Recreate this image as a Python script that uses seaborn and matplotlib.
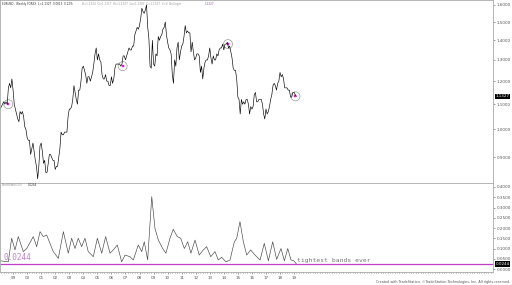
import matplotlib
matplotlib.use("Agg")
import matplotlib.pyplot as plt
import matplotlib.ticker as mticker
import seaborn as sns
import numpy as np
import pandas as pd

# ---------------- data ----------------
start_year = 1998.0
price_monthly = [
    1.09, 1.08, 1.09, 1.10, 1.11, 1.10, 1.11, 1.10, 1.17, 1.19, 1.17, 1.21,  # 1998
    1.16, 1.10, 1.08, 1.06, 1.04, 1.03, 1.07, 1.06, 1.07, 1.05, 1.01, 1.00,  # 1999
    0.97, 0.96, 0.96, 0.91, 0.93, 0.95, 0.92, 0.89, 0.87, 0.83, 0.87, 0.94,  # 2000
    0.95, 0.92, 0.88, 0.89, 0.85, 0.85, 0.88, 0.91, 0.91, 0.90, 0.89, 0.89,  # 2001
    0.86, 0.87, 0.87, 0.90, 0.93, 0.99, 0.98, 0.98, 0.99, 0.99, 0.99, 1.05,  # 2002
    1.08, 1.08, 1.09, 1.12, 1.18, 1.15, 1.12, 1.10, 1.16, 1.16, 1.20, 1.26,  # 2003
    1.27, 1.25, 1.23, 1.19, 1.22, 1.22, 1.20, 1.22, 1.24, 1.28, 1.33, 1.36,  # 2004
    1.30, 1.33, 1.30, 1.29, 1.23, 1.21, 1.21, 1.23, 1.20, 1.20, 1.18, 1.18,  # 2005
    1.22, 1.19, 1.21, 1.26, 1.28, 1.28, 1.28, 1.28, 1.27, 1.28, 1.32, 1.32,  # 2006
    1.30, 1.32, 1.34, 1.36, 1.35, 1.35, 1.37, 1.37, 1.43, 1.45, 1.47, 1.46,  # 2007
    1.48, 1.52, 1.58, 1.56, 1.55, 1.57, 1.60, 1.47, 1.41, 1.27, 1.26, 1.40,  # 2008
    1.28, 1.27, 1.33, 1.32, 1.42, 1.40, 1.42, 1.43, 1.46, 1.47, 1.50, 1.43,  # 2009
    1.39, 1.36, 1.35, 1.33, 1.23, 1.19, 1.30, 1.27, 1.36, 1.39, 1.30, 1.34,  # 2010
    1.37, 1.38, 1.42, 1.48, 1.44, 1.45, 1.44, 1.44, 1.34, 1.39, 1.34, 1.30,  # 2011
    1.31, 1.33, 1.33, 1.32, 1.24, 1.27, 1.21, 1.26, 1.29, 1.30, 1.30, 1.32,  # 2012
    1.36, 1.31, 1.28, 1.32, 1.30, 1.30, 1.33, 1.32, 1.35, 1.36, 1.36, 1.38,  # 2013
    1.35, 1.38, 1.38, 1.39, 1.36, 1.37, 1.34, 1.31, 1.26, 1.25, 1.25, 1.21,  # 2014
    1.13, 1.12, 1.06, 1.12, 1.10, 1.11, 1.10, 1.12, 1.12, 1.10, 1.06, 1.09,  # 2015
    1.08, 1.09, 1.14, 1.15, 1.11, 1.11, 1.12, 1.12, 1.12, 1.10, 1.06, 1.04,  # 2016
    1.08, 1.06, 1.07, 1.09, 1.12, 1.14, 1.18, 1.19, 1.18, 1.16, 1.19, 1.20,  # 2017
    1.24, 1.22, 1.23, 1.21, 1.17, 1.17, 1.17, 1.16, 1.16, 1.13, 1.13, 1.15,  # 2018
    1.15, 1.14, 1.1327,                                                      # 2019
]

bw_years = [
    1998.07, 1998.66, 1998.90, 1999.14, 1999.37, 1999.73, 1999.97, 2000.44,
    2000.68, 2000.92, 2001.15, 2001.39, 2001.86, 2002.22, 2002.58, 2002.93,
    2003.17, 2003.41, 2003.64, 2003.88, 2004.12, 2004.35, 2004.71, 2005.00,
    2005.31, 2005.59, 2005.90, 2006.13, 2006.42, 2006.73, 2006.97, 2007.32,
    2007.56, 2007.91, 2008.16, 2008.34, 2008.58, 2008.87, 2009.10, 2009.34,
    2009.65, 2009.88, 2010.17, 2010.40, 2010.69, 2010.93, 2011.19, 2011.43,
    2011.66, 2011.95, 2012.25, 2012.54, 2012.78, 2013.07, 2013.37, 2013.61,
    2013.85, 2014.15, 2014.44, 2014.75, 2014.92, 2015.15, 2015.39, 2015.63,
    2015.91, 2016.22, 2016.58, 2016.88, 2017.17, 2017.48, 2017.76, 2018.07,
    2018.31, 2018.55, 2018.78, 2018.98, 2019.17,
]
bw_values = [
    0.040, 0.035, 0.150, 0.093, 0.158, 0.085, 0.100, 0.158,
    0.109, 0.182, 0.158, 0.166, 0.085, 0.052, 0.182, 0.077,
    0.150, 0.100, 0.150, 0.109, 0.150, 0.085, 0.060, 0.150,
    0.077, 0.158, 0.077, 0.093, 0.117, 0.035, 0.068, 0.060,
    0.044, 0.117, 0.085, 0.133, 0.044, 0.353, 0.198, 0.141,
    0.100, 0.077, 0.150, 0.194, 0.158, 0.150, 0.100, 0.133,
    0.077, 0.141, 0.068, 0.093, 0.109, 0.060, 0.085, 0.044,
    0.057, 0.035, 0.044, 0.133, 0.150, 0.231, 0.133, 0.068,
    0.093, 0.068, 0.044, 0.125, 0.040, 0.133, 0.047, 0.100,
    0.040, 0.100, 0.044, 0.040, 0.0244,
]

circle_years = [1998.66, 2006.80, 2014.30, 2019.10]
circle_prices = [1.10, 1.27, 1.38, 1.133]

price_ticks = [0.9, 1.0, 1.1, 1.2, 1.3, 1.4, 1.5, 1.6]
bw_ticks = [0.0, 0.05, 0.10, 0.15, 0.20, 0.25, 0.30, 0.35, 0.40]
year_ticks = list(range(1999, 2020))
year_labels = [f"{y % 100:02d}" for y in year_ticks]

last_price = 1.1327
min_bw = 0.0244

# ---------------- figure ----------------
sns.set_theme(style="white")
plt.rcParams['font.family'] = ['DejaVu Sans']

W, H = 512, 285
fig = plt.figure(figsize=(W / 100, H / 100), dpi=100)
ax1 = fig.add_axes([0, 1 - 183 / H, 493 / W, 183 / H])
ax2 = fig.add_axes([0, 13 / H, 493 / W, 89 / H])

xmin = 1998.07
xmax = 1998.07 + 493 / 14.05

df_price = pd.DataFrame({
    "year": [start_year + i / 12 for i in range(len(price_monthly))],
    "price": price_monthly,
})
df_bw = pd.DataFrame({"year": bw_years, "bw": bw_values})

tick_col = "#555555"
purple = "#c03cc8"

# price panel
sns.lineplot(data=df_price, x="year", y="price", ax=ax1, color="black", lw=0.45)
ax1.set_yscale("log")
ax1.set_ylim(0.817, 1.63)
ax1.set_xlim(xmin, xmax)
ax1.yaxis.set_major_locator(mticker.FixedLocator(price_ticks))
ax1.yaxis.set_minor_locator(mticker.NullLocator())
ax1.yaxis.set_major_formatter(mticker.FuncFormatter(lambda v, p: f"{v:.4f}"))
ax1.yaxis.tick_right()
ax1.set_xticks([])
ax1.set_xlabel("")
ax1.set_ylabel("")
ax1.tick_params(axis="y", labelsize=3, colors=tick_col, length=1.5, width=0.4, pad=1)

sns.scatterplot(x=circle_years, y=circle_prices, ax=ax1, s=42, facecolor="none",
                edgecolor="#999999", linewidth=0.5, marker="o")
sns.scatterplot(x=circle_years, y=circle_prices, ax=ax1, s=4, color="#e020e0",
                edgecolor="#e020e0", linewidth=0.3, marker="s")

# bandwidth panel
sns.lineplot(data=df_bw, x="year", y="bw", ax=ax2, color="#444444", lw=0.45)
ax2.axhline(min_bw, color=purple, lw=0.9)
ax2.set_ylim(-0.0146, 0.4195)
ax2.set_xlim(xmin, xmax)
ax2.yaxis.set_major_locator(mticker.FixedLocator(bw_ticks))
ax2.yaxis.set_major_formatter(mticker.FuncFormatter(lambda v, p: f"{v:.4f}"))
ax2.yaxis.tick_right()
ax2.set_xticks(year_ticks)
ax2.set_xticklabels(year_labels)
ax2.xaxis.set_minor_locator(mticker.MultipleLocator(1 / 6))
ax2.set_xlabel("")
ax2.set_ylabel("")
ax2.tick_params(axis="y", labelsize=3, colors=tick_col, length=1.5, width=0.4, pad=1)
ax2.tick_params(axis="x", which="both", labelsize=3, colors=tick_col, length=1.2,
                width=0.4, pad=1.5, bottom=True, direction="out")
ax2.tick_params(axis="x", which="minor", length=0.8)

for ax in (ax1, ax2):
    for s in ax.spines.values():
        s.set_color("#aaaaaa")
        s.set_linewidth(0.6)
    ax.grid(False)

# current value boxes
ax1.text(1.005, last_price, f"{last_price:.4f}", transform=ax1.get_yaxis_transform(),
         fontsize=3, color="white", va="center", ha="left",
         bbox=dict(boxstyle="square,pad=0.15", fc="black", ec="none"))
ax2.text(1.005, min_bw, f"{min_bw:.4f}", transform=ax2.get_yaxis_transform(),
         fontsize=3, color="white", va="center", ha="left",
         bbox=dict(boxstyle="square,pad=0.15", fc="black", ec="none"))

# annotations
ax2.text(1998.3, 0.032, "0.0244", fontsize=5.5, color="#c080d0",
         family="DejaVu Sans Mono", va="bottom", ha="left")
ax2.text(2019.2, 0.030, "tightest bands ever", fontsize=4.6, color="#777777",
         family="DejaVu Sans Mono", va="bottom", ha="left")

# header texts
fig.text(2 / W, 1 - 4 / H, "EURUSD - Weekly FOREX  L=1.1327  0.0013  0.12%",
         fontsize=2.0, color="#333333", va="center", ha="left")
fig.text(82 / W, 1 - 4 / H,
         "B=1.1324  O=1.1317  Hi=1.1327  Lo=1.1307  C=1.1327  V=0  Bollinger",
         fontsize=2.0, color="#999999", va="center", ha="left")
fig.text(205 / W, 1 - 4 / H, "1.1327", fontsize=2.0, color="#a040c0", va="center", ha="left")
fig.text(2 / W, 1 - 185 / H, "BandWidth(20)", fontsize=2.0, color="#999999", va="center", ha="left")
fig.text(28 / W, 1 - 185 / H, "0.0244", fontsize=2.0, color="#333333", va="center", ha="left")
fig.text(510 / W, 2.5 / H,
         "Created with TradeStation. \u00a9TradeStation Technologies, Inc. All rights reserved.",
         fontsize=2.4, color="#555555", va="center", ha="right")

fig.savefig("out.png", dpi=100, facecolor="white")
